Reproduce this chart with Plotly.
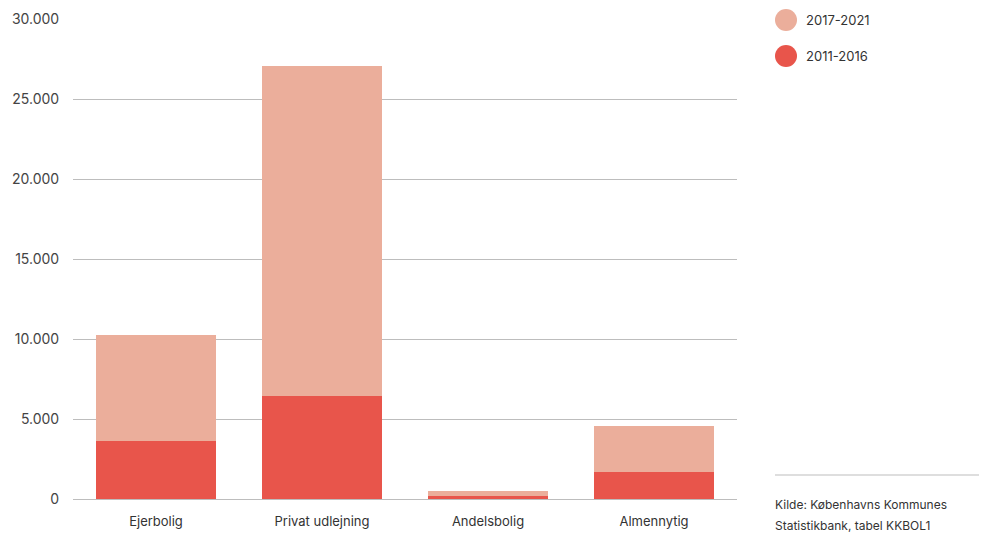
import plotly.graph_objects as go

categories = ["Ejerbolig", "Privat udlejning", "Andelsbolig", "Almennytig"]
series_2011_2016 = [3600, 6450, 160, 1700]
series_2017_2021 = [6670, 20630, 320, 2880]
y_ticks = [0, 5000, 10000, 15000, 20000, 25000, 30000]

col_light = "#EBAE9B"
col_red = "#E8554B"
font_fam = "Inter, 'Open Sans', sans-serif"

# page has an 8px body margin, so the figure is sized to fit inside the window
W, H = 979, 525
L, T, B = 65, 11, 34
R = 250

def px(X):
    return (X - 73) / 664

def py(Y):
    return (499 - Y) / 480

fig = go.Figure()
fig.add_trace(go.Bar(x=categories, y=series_2011_2016, name="2011-2016",
                     marker=dict(color=col_red, line=dict(width=0)), showlegend=False))
fig.add_trace(go.Bar(x=categories, y=series_2017_2021, name="2017-2021",
                     marker=dict(color=col_light, line=dict(width=0)), showlegend=False))

fig.update_layout(
    barmode="stack",
    bargap=0.28,
    width=W, height=H,
    margin=dict(l=L, r=R, t=T, b=B, autoexpand=False),
    plot_bgcolor="white", paper_bgcolor="white",
    separators=",.",
    font=dict(family=font_fam, size=13, color="#444"),
    xaxis=dict(showgrid=False, showline=False, zeroline=False,
               tickfont=dict(size=13, color="#333"), ticks="outside", ticklen=10,
               tickcolor="rgba(0,0,0,0)"),
    yaxis=dict(range=[0, 30000], tickvals=y_ticks, tickformat=",d",
               showgrid=True, gridcolor="#bdbdbd", gridwidth=1,
               zeroline=True, zerolinecolor="#bdbdbd", zerolinewidth=1,
               showline=False, ticks="outside", ticklen=10, tickcolor="rgba(0,0,0,0)",
               tickfont=dict(size=14, color="#444")),
)

# legend drawn as circles + labels
legend_items = [("2017-2021", col_light), ("2011-2016", col_red)]
for i, (lab, col) in enumerate(legend_items):
    yc = 20 + i * 36
    fig.add_shape(type="circle", xref="paper", yref="paper",
                  x0=px(775), x1=px(797), y0=py(yc + 11), y1=py(yc - 11),
                  fillcolor=col, line=dict(width=0))
    fig.add_annotation(xref="paper", yref="paper", x=px(804), y=py(yc),
                       text=lab, showarrow=False, xanchor="left", yanchor="middle",
                       font=dict(size=13, color="#333", family=font_fam))

# source line and text
fig.add_shape(type="line", xref="paper", yref="paper",
              x0=px(775), x1=px(987), y0=py(475), y1=py(475),
              line=dict(color="#bdbdbd", width=1))
source_lines = ["Kilde: Københavns Kommunes", "Statistikbank, tabel KKBOL1"]
for j, s in enumerate(source_lines):
    fig.add_annotation(xref="paper", yref="paper", x=px(773), y=py(504 + 21 * j),
                       text=s, showarrow=False, xanchor="left", yanchor="middle",
                       font=dict(size=12, color="#333", family=font_fam))

fig.write_html("out.html")
